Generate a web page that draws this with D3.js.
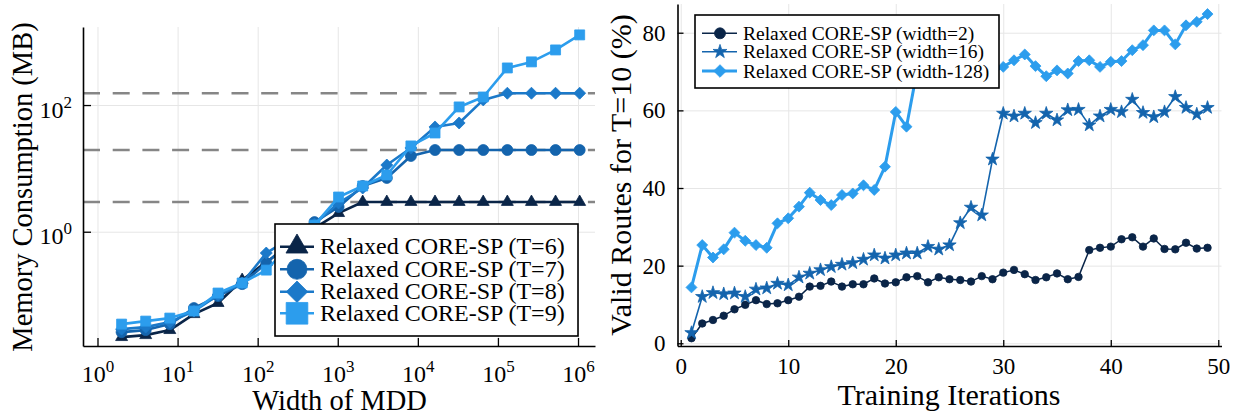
<!DOCTYPE html>
<html><head><meta charset="utf-8">
<script src="https://cdn.jsdelivr.net/npm/d3@7"></script>
<style>
body{margin:0;background:#fff;}
svg{display:block;}
text{font-family:"Liberation Serif","Times New Roman",serif;fill:#000;}
</style>
</head><body>
<svg id="chart" width="1233" height="416"></svg>
<script>
// ---------------- DATA ----------------
// Left panel: memory consumption vs MDD width
const mddWidths = [2,4,8,16,32,64,128,256,512,1024,2048,4096,8192,16384,32768,65536,131072,262144,524288,1048576];
const memT6 = [0.0217,0.0233,0.028,0.050,0.075,0.173,0.332,0.616,1.14,1.97,2.95,2.95,2.95,2.95,2.95,2.95,2.95,2.95,2.95,2.95];
const memT7 = [0.026,0.028,0.0348,0.0623,0.0965,0.149,0.321,0.688,1.42,2.46,5.27,7.06,15.7,19.5,19.5,19.5,19.5,19.5,19.5,19.5];
const memT8 = [0.029,0.0312,0.0374,0.0559,0.100,0.155,0.461,0.794,1.32,2.84,4.9,11.3,21.0,45.1,52.1,120.5,153.6,153.6,153.6,153.6];
const memT9 = [0.0348,0.0388,0.0433,0.0559,0.1076,0.155,0.248,0.616,1.27,3.53,5.27,7.87,22.6,36.2,93.3,134,385,480,741,1280];
const memLimits = [2.95,19.5,153.6];
const leftSeriesNames = ["Relaxed CORE-SP (T=6)","Relaxed CORE-SP (T=7)","Relaxed CORE-SP (T=8)","Relaxed CORE-SP (T=9)"];
const leftXTickValues = [1,10,100,1000,10000,100000,1000000];
const leftXTickExps = ["0","1","2","3","4","5","6"];
const leftYTickValues = [1,100];
const leftYTickExps = ["0","2"];

// Right panel: valid routes vs training iterations
const iterations = [1,2,3,4,5,6,7,8,9,10,11,12,13,14,15,16,17,18,19,20,21,22,23,24,25,26,27,28,29,30,31,32,33,34,35,36,37,38,39,40,41,42,43,44,45,46,47,48,49];
const routesW2 = [1.3,5.1,6.0,7.1,8.75,9.9,11.1,10.1,10.3,11.1,12.0,14.6,14.8,15.9,14.6,15.2,15.2,16.7,15.4,15.7,17.0,17.3,15.7,17.0,16.5,16.3,15.9,17.3,16.5,18.2,18.9,17.8,16.3,17.0,18.0,16.5,17.1,24.0,24.6,24.9,26.8,27.3,24.9,27.0,24.3,24.2,25.9,24.4,24.6];
const routesW16 = [2.7,12.0,13.0,12.7,12.9,12.0,13.9,14.2,15.4,15.0,17.0,18.0,18.9,19.7,20.3,20.7,21.6,22.7,21.9,22.7,23.2,23.2,24.9,24.2,25.3,31.0,35.0,33.0,47.4,59.2,58.5,59.2,56.8,59.2,57.5,60.1,60.2,56.2,58.5,60.2,59.6,62.8,59.4,58.3,59.6,63.5,60.7,59.0,60.7];
const routesW128 = [14.4,25.3,22.1,24.2,28.5,26.4,25.3,24.6,30.9,32.2,35.2,38.8,36.9,35.6,38.2,38.6,40.7,39.5,45.5,59.6,55.8,70.5,69.0,71.0,70.0,72.0,70.5,71.5,70.0,71.2,72.9,74.4,71.4,68.8,70.3,69.5,72.7,72.9,71.2,72.5,72.7,75.5,76.8,80.6,80.6,77.0,81.9,82.8,84.8];
const rightSeriesNames = ["Relaxed CORE-SP (width=2)","Relaxed CORE-SP (width=16)","Relaxed CORE-SP (width-128)"];
const rightXTicks = [0,10,20,30,40,50];
const rightYTicks = [0,20,40,60,80];

// ---------------- STYLE ----------------
const cNavy = "#0a2548", cMid = "#1464ad", cMed = "#1b79c9", cLight = "#2c9ded";
const gridColor = "#e6e6e6";

// custom rotated-square diamond
const symSqDiamond = {draw(ctx, size){const r=Math.sqrt(size/2);ctx.moveTo(0,-r);ctx.lineTo(r,0);ctx.lineTo(0,r);ctx.lineTo(-r,0);ctx.closePath();}};

const svg = d3.select("#chart");
svg.append("rect").attr("width",1233).attr("height",416).attr("fill","#fff");

function styleAxis(g){
  g.attr("font-family",null).attr("font-size",null);
  g.select(".domain").attr("stroke","#000").attr("stroke-width",1.6);
  g.selectAll(".tick line").attr("stroke","#000").attr("stroke-width",1.3);
}
function gridX(scale, ticks, y0, y1){
  const g = svg.append("g").attr("transform",`translate(0,${y1})`)
    .call(d3.axisBottom(scale).tickValues(ticks).tickSize(-(y1-y0)).tickFormat(""));
  g.select(".domain").remove();
  g.selectAll("line").attr("stroke",gridColor).attr("stroke-width",1);
}
function gridY(scale, ticks, x0, x1){
  const g = svg.append("g").attr("transform",`translate(${x0},0)`)
    .call(d3.axisLeft(scale).tickValues(ticks).tickSize(-(x1-x0)).tickFormat(""));
  g.select(".domain").remove();
  g.selectAll("line").attr("stroke",gridColor).attr("stroke-width",1);
}

// ---------------- LEFT PANEL ----------------
const L = {x0:83, x1:595, y0:27, y1:346};
const xL = d3.scaleLog().domain([Math.pow(10,-0.181), Math.pow(10,6.212)]).range([L.x0, L.x1]);
const yL = d3.scaleLog().domain([Math.pow(10,-1.804), Math.pow(10,3.232)]).range([L.y1, L.y0]);

gridX(xL, leftXTickValues, L.y0, L.y1);
gridY(yL, leftYTickValues, L.x0, L.x1);

// dashed limit lines
svg.append("g").selectAll("line").data(memLimits).join("line")
  .attr("x1",L.x0).attr("x2",L.x1)
  .attr("y1",d=>yL(d)).attr("y2",d=>yL(d))
  .attr("stroke","#868686").attr("stroke-width",2.6).attr("stroke-dasharray","17 12.7");

// axes
const axLx = svg.append("g").attr("transform",`translate(0,${L.y1})`)
  .call(d3.axisBottom(xL).tickValues(leftXTickValues).tickSizeInner(-8).tickSizeOuter(0).tickPadding(19).tickFormat(()=>""));
styleAxis(axLx);
axLx.selectAll(".tick text").each(function(d,i){
  const t = d3.select(this).style("font-size","24px");
  t.append("tspan").text("10");
  t.append("tspan").attr("dy",-10).style("font-size","17px").text(leftXTickExps[i]);
});
const axLy = svg.append("g").attr("transform",`translate(${L.x0},0)`)
  .call(d3.axisLeft(yL).tickValues(leftYTickValues).tickSizeInner(-8).tickSizeOuter(0).tickPadding(11).tickFormat(()=>""));
styleAxis(axLy);
axLy.selectAll(".tick text").attr("dy","0.5em").each(function(d,i){
  const t = d3.select(this).style("font-size","24px");
  t.append("tspan").text("10");
  t.append("tspan").attr("dy",-10).style("font-size","17px").text(leftYTickExps[i]);
});

const leftSeries = [
  {vals:memT6, color:cNavy, sym:d3.symbolTriangle, size:62, lsize:210},
  {vals:memT7, color:cMid, sym:d3.symbolCircle, size:95, lsize:314},
  {vals:memT8, color:cMed, sym:symSqDiamond, size:72, lsize:230},
  {vals:memT9, color:cLight, sym:d3.symbolSquare, size:100, lsize:470}
];
const lineL = d3.line().x(d=>xL(d[0])).y(d=>yL(d[1]));
leftSeries.forEach(s=>{
  const pts = mddWidths.map((w,i)=>[w, s.vals[i]]);
  const g = svg.append("g");
  g.append("path").datum(pts).attr("d",lineL).attr("fill","none").attr("stroke",s.color).attr("stroke-width",2.6).attr("stroke-linejoin","round");
  g.selectAll("path.m").data(pts).join("path").attr("class","m")
    .attr("transform",d=>`translate(${xL(d[0])},${yL(d[1])})`)
    .attr("d",d3.symbol(s.sym, s.size)).attr("fill",s.color).attr("stroke",s.color).attr("stroke-width",0.8);
});

// left legend
const LL = {x:275, y:224, w:303, h:112};
const lg = svg.append("g");
lg.append("rect").attr("x",LL.x).attr("y",LL.y).attr("width",LL.w).attr("height",LL.h).attr("fill","#fff").attr("stroke","#000").attr("stroke-width",1.6);
const lRows = [246.7,269.3,291.7,313.3];
leftSeries.forEach((s,i)=>{
  const y = lRows[i];
  lg.append("line").attr("x1",280).attr("x2",314).attr("y1",y).attr("y2",y).attr("stroke",s.color).attr("stroke-width",2.6);
  lg.append("path").attr("transform",`translate(297,${y})`).attr("d",d3.symbol(s.sym, s.lsize)).attr("fill",s.color).attr("stroke",s.color).attr("stroke-width",0.8);
  lg.append("text").attr("x",320).attr("y",y+7.5).style("font-size","24px").text(leftSeriesNames[i]);
});

// left axis labels
svg.append("text").attr("x",339.5).attr("y",410).attr("text-anchor","middle").style("font-size","28.5px").text("Width of MDD");
svg.append("text").attr("transform","translate(32,187) rotate(-90)").attr("text-anchor","middle").style("font-size","28.5px").text("Memory Consumption (MB)");

// ---------------- RIGHT PANEL ----------------
const R = {x0:677.5, x1:1221.5, y0:4, y1:346};
const xR = d3.scaleLinear().domain([-0.3,50.3]).range([R.x0,R.x1]);
const yR = d3.scaleLinear().domain([-0.7,87.4]).range([R.y1,R.y0]);

gridX(xR, rightXTicks, R.y0, R.y1);
gridY(yR, rightYTicks, R.x0, R.x1);

const axRx = svg.append("g").attr("transform",`translate(0,${R.y1})`)
  .call(d3.axisBottom(xR).tickValues(rightXTicks).tickSizeInner(-6).tickSizeOuter(0).tickPadding(12));
styleAxis(axRx);
axRx.selectAll(".tick text").style("font-size","23px");
const axRy = svg.append("g").attr("transform",`translate(${R.x0},0)`)
  .call(d3.axisLeft(yR).tickValues(rightYTicks).tickSizeInner(-6).tickSizeOuter(0).tickPadding(12));
styleAxis(axRy);
axRy.selectAll(".tick text").style("font-size","23px");

const rightSeries = [
  {vals:routesW2, color:cNavy, sym:d3.symbolCircle, size:44, lsize:95, lw:1.5},
  {vals:routesW16, color:cMid, sym:d3.symbolStar, size:55, lsize:60, lw:1.6},
  {vals:routesW128, color:cLight, sym:symSqDiamond, size:60, lsize:80, lw:3}
];
const lineR = d3.line().x(d=>xR(d[0])).y(d=>yR(d[1]));
rightSeries.forEach(s=>{
  const pts = iterations.map((x,i)=>[x, s.vals[i]]);
  const g = svg.append("g");
  g.append("path").datum(pts).attr("d",lineR).attr("fill","none").attr("stroke",s.color).attr("stroke-width",s.lw).attr("stroke-linejoin","round");
  g.selectAll("path.m").data(pts).join("path").attr("class","m")
    .attr("transform",d=>`translate(${xR(d[0])},${yR(d[1])})`)
    .attr("d",d3.symbol(s.sym, s.size)).attr("fill",s.color).attr("stroke",s.color).attr("stroke-width",0.8);
});

// right legend
const RL = {x:695, y:15, w:304, h:73};
const rg = svg.append("g");
rg.append("rect").attr("x",RL.x).attr("y",RL.y).attr("width",RL.w).attr("height",RL.h).attr("fill","#fff").attr("stroke","#000").attr("stroke-width",1.6);
const rRows = [33.3,51.7,71];
rightSeries.forEach((s,i)=>{
  const y = rRows[i];
  rg.append("line").attr("x1",702).attr("x2",737).attr("y1",y).attr("y2",y).attr("stroke",s.color).attr("stroke-width",s.lw);
  rg.append("path").attr("transform",`translate(720,${y})`).attr("d",d3.symbol(s.sym, s.lsize)).attr("fill",s.color).attr("stroke",s.color).attr("stroke-width",0.8);
  rg.append("text").attr("x",743).attr("y",y+6.5).style("font-size","19.5px").text(rightSeriesNames[i]);
});

// right axis labels
svg.append("text").attr("x",949).attr("y",405).attr("text-anchor","middle").style("font-size","30px").text("Training Iterations");
svg.append("text").attr("transform","translate(631,175) rotate(-90)").attr("text-anchor","middle").style("font-size","30px").text("Valid Routes for T=10 (%)");
</script>
</body></html>
